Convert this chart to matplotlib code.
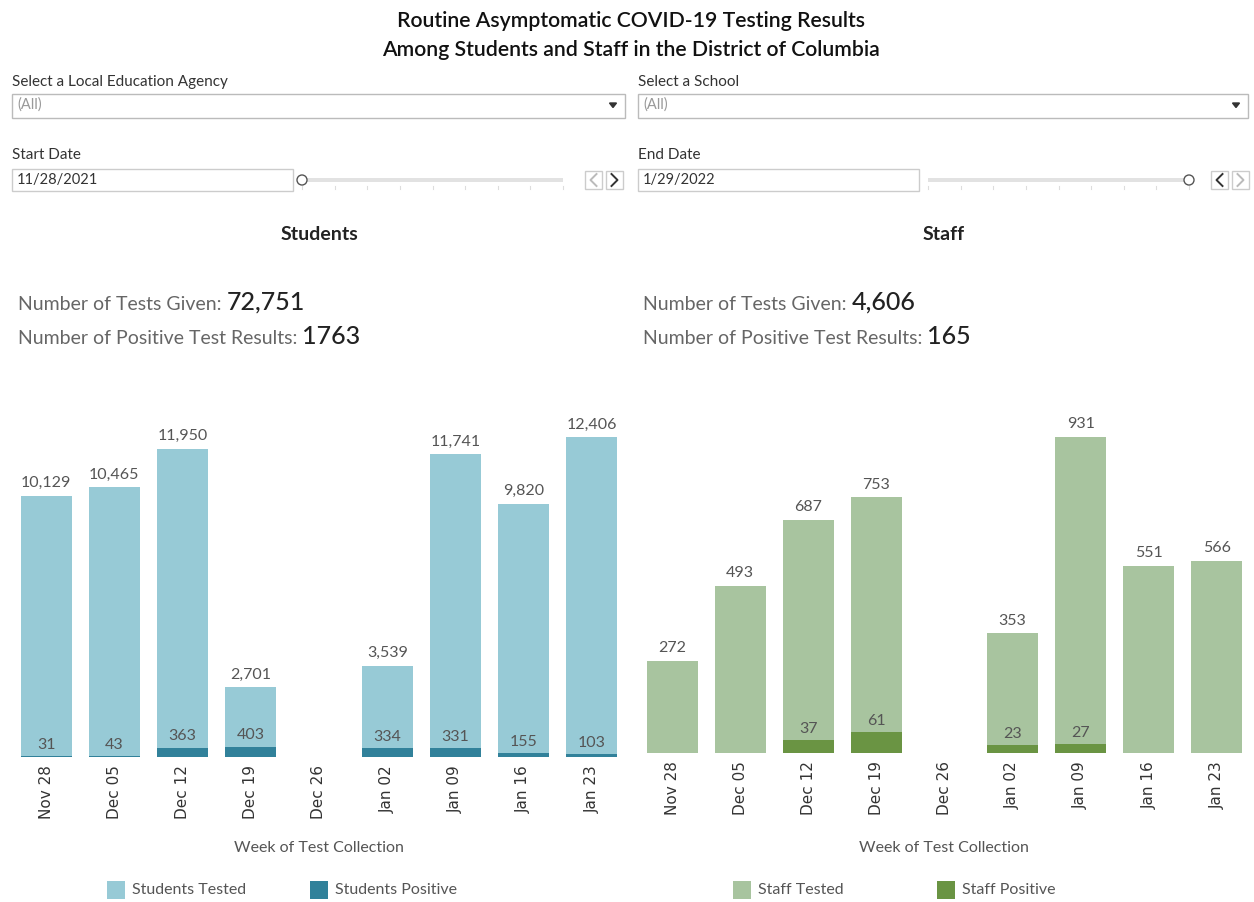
"""Recreation of the DC routine asymptomatic COVID-19 testing dashboard."""

import matplotlib

matplotlib.use("Agg")
import matplotlib.pyplot as plt
import numpy as np
from matplotlib.patches import Rectangle, Circle, Polygon

plt.rcParams["font.family"] = ["Lato", "DejaVu Sans"]

weeks = ["Nov 28", "Dec 05", "Dec 12", "Dec 19", "Dec 26", "Jan 02", "Jan 09", "Jan 16", "Jan 23"]
students_tested = [10129, 10465, 11950, 2701, np.nan, 3539, 11741, 9820, 12406]
students_positive = [31, 43, 363, 403, np.nan, 334, 331, 155, 103]
staff_tested = [272, 493, 687, 753, np.nan, 353, 931, 551, 566]
staff_positive = [np.nan, np.nan, 37, 61, np.nan, 23, 27, np.nan, np.nan]

students_total_tests = "72,751"
students_total_pos = "1763"
staff_total_tests = "4,606"
staff_total_pos = "165"

STU_TESTED = "#97CAD6"
STU_POS = "#31819A"
STF_TESTED = "#A8C49F"
STF_POS = "#6A9443"
GRAY_TXT = "#555555"

W, H = 1254, 902
fig = plt.figure(figsize=(W / 100, H / 100), dpi=100)
bg = fig.add_axes([0, 0, 1, 1])
bg.set_xlim(0, W)
bg.set_ylim(H, 0)
bg.axis("off")

# title
bg.text(631, 21, "Routine Asymptomatic COVID-19 Testing Results", ha="center", va="center",
        fontsize=15.3, color="#111111", fontweight="semibold")
bg.text(631, 50, "Among Students and Staff in the District of Columbia", ha="center", va="center",
        fontsize=15.3, color="#111111", fontweight="semibold")


def dropdown(x0, x1, label):
    bg.text(x0, 82, label, ha="left", va="center", fontsize=11, color="#333333")
    bg.add_patch(Rectangle((x0, 94), x1 - x0, 24, fill=False, ec="#bbbbbb", lw=1))
    bg.text(x0 + 5, 105, "(All)", ha="left", va="center", fontsize=10.5, color="#999999")
    tx = x1 - 12
    bg.add_patch(Polygon([[tx - 3.5, 103], [tx + 3.5, 103], [tx, 107.5]], closed=True,
                         color="#333333"))


def chevron(cx, cy, direction, color):
    d = 3 if direction == ">" else -3
    bg.plot([cx - d, cx + d, cx - d], [cy - 6, cy, cy + 6], color=color, lw=1.4)


def date_filter(x0, label, value, knob_left):
    bg.text(x0, 155, label, ha="left", va="center", fontsize=11, color="#333333")
    bg.add_patch(Rectangle((x0, 169), 281, 22, fill=False, ec="#cccccc", lw=1))
    bg.text(x0 + 5, 180, value, ha="left", va="center", fontsize=10.5, color="#333333")
    tr0, tr1 = x0 + 290, x0 + 551
    bg.add_patch(Rectangle((tr0, 178), tr1 - tr0, 4, color="#e2e2e2", lw=0))
    for k in range(9):
        xx = tr0 + k * (tr1 - tr0) / 8
        bg.plot([xx, xx], [186, 189], color="#dddddd", lw=0.8)
    kx = tr0 if knob_left else tr1
    bg.add_patch(Circle((kx, 180), 5, fc="white", ec="#555555", lw=1, zorder=3))
    bx = x0 + 573
    cols = ["#bbbbbb", "#333333"] if knob_left else ["#333333", "#bbbbbb"]
    for j, sym in enumerate(["<", ">"]):
        bg.add_patch(Rectangle((bx + j * 21, 171), 17, 18, fill=False, ec="#cccccc", lw=1))
        chevron(bx + j * 21 + 8.5, 180, sym, cols[j])


dropdown(12, 625, "Select a Local Education Agency")
dropdown(638, 1248, "Select a School")
date_filter(12, "Start Date", "11/28/2021", True)
date_filter(638, "End Date", "1/29/2022", False)

renderer = fig.canvas.get_renderer()


def stat_line(x, y, label, value):
    t1 = bg.text(x, y, label, ha="left", va="baseline", fontsize=14, color="#666666")
    bb = t1.get_window_extent(renderer=renderer)
    bg.text(bb.x1 + 5, y, value, ha="left", va="baseline", fontsize=18, color="#222222",
            fontweight="medium")


def panel(cx, heading, total_tests, total_pos):
    bg.text(cx, 235, heading, ha="center", va="center", fontsize=14, fontweight="bold",
            color="#222222")
    x0 = cx - 301
    stat_line(x0, 310, "Number of Tests Given:", total_tests)
    stat_line(x0, 344, "Number of Positive Test Results:", total_pos)


panel(319, "Students", students_total_tests, students_total_pos)
panel(944, "Staff", staff_total_tests, staff_total_pos)


def bar_chart(left, right, base, top_px, top_val, tested, positive, c_t, c_p, fmt):
    ax_top = 410
    ymax = top_val / (base - top_px) * (base - ax_top)
    ax = fig.add_axes([left / W, (H - base) / H, (right - left) / W, (base - ax_top) / H])
    x = np.arange(len(weeks))
    ax.bar(x, tested, width=0.75, color=c_t)
    ax.bar(x, positive, width=0.75, color=c_p)
    for xi, v in zip(x, tested):
        if not np.isnan(v):
            ax.annotate(fmt(v), (xi, v), xytext=(0, 4), textcoords="offset points",
                        ha="center", va="bottom", fontsize=11.5, color=GRAY_TXT)
    for xi, v in zip(x, positive):
        if not np.isnan(v):
            ax.annotate(f"{int(v)}", (xi, v), xytext=(0, 3), textcoords="offset points",
                        ha="center", va="bottom", fontsize=11.5, color=GRAY_TXT)
    ax.set_xlim(-0.5, len(weeks) - 0.5)
    ax.set_ylim(0, ymax)
    ax.set_xticks(x)
    ax.set_xticklabels(weeks, rotation=90, fontsize=11, color="#333333",
                       family=["DejaVu Sans"])
    ax.tick_params(axis="x", length=0, pad=6)
    ax.set_yticks([])
    for s in ax.spines.values():
        s.set_visible(False)
    ax.patch.set_alpha(0)
    return ax


bar_chart(12, 626, 757, 437, 12406, students_tested, students_positive,
          STU_TESTED, STU_POS, lambda v: f"{int(v):,}")
bar_chart(638, 1251, 753, 437, 931, staff_tested, staff_positive,
          STF_TESTED, STF_POS, lambda v: f"{int(v)}")

for cx in (319, 944):
    bg.text(cx, 848, "Week of Test Collection", ha="center", va="center", fontsize=11.5,
            color=GRAY_TXT)


def legend_item(x, color, label):
    bg.add_patch(Rectangle((x, 881), 18, 18, color=color, lw=0))
    bg.text(x + 25, 890, label, ha="left", va="center", fontsize=11.5, color=GRAY_TXT)


legend_item(107, STU_TESTED, "Students Tested")
legend_item(310, STU_POS, "Students Positive")
legend_item(733, STF_TESTED, "Staff Tested")
legend_item(937, STF_POS, "Staff Positive")

fig.savefig("out.png", dpi=100)
